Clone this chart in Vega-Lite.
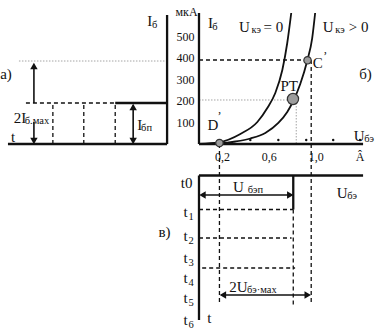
{
  "$schema": "https://vega.github.io/schema/vega-lite/v6.json",
  "width": 392,
  "height": 333,
  "autosize": {"type": "fit", "contains": "padding"},
  "padding": 0,
  "background": "white",
  "config": {"view": {"stroke": null}, "font": "Liberation Serif"},
  "datasets": {
    "thick": [
      {"x": -1.63, "x2": -0.2723, "y": 0, "y2": 0},
      {"x": -0.2723, "x2": -0.2723, "y": 0, "y2": 600},
      {"x": -0.7149, "x2": -0.2723, "y": 190.7, "y2": 190.7},
      {"x": 0, "x2": 0, "y": 0, "y2": 609.3},
      {"x": 0, "x2": 1.4, "y": 0, "y2": 0},
      {"x": 0, "x2": 1.4, "y": -146.5, "y2": -146.5},
      {"x": 0, "x2": 0, "y": -146.5, "y2": -818.6},
      {"x": 0.8043, "x2": 0.8043, "y": -146.5, "y2": -304.7}
    ],
    "dashed": [
      {"x": -1.4766, "x2": -0.7149, "y": 190.7, "y2": 190.7},
      {"x": -1.2468, "x2": -1.2468, "y": 0, "y2": 190.7},
      {"x": -0.983, "x2": -0.983, "y": 0, "y2": 190.7},
      {"x": -0.7149, "x2": -0.7149, "y": 0, "y2": 190.7},
      {"x": 0, "x2": 0.9234, "y": 390.7, "y2": 390.7},
      {"x": 0.9574, "x2": 0.9574, "y": 390.7, "y2": -748.8},
      {"x": 0.1745, "x2": 0.1745, "y": 0, "y2": -748.8},
      {"x": 0.8043, "x2": 0.8043, "y": -304.7, "y2": -748.8},
      {"x": 0, "x2": 0.8043, "y": -304.7, "y2": -304.7},
      {"x": 0, "x2": 0.79, "y": -437.2, "y2": -437.2},
      {"x": 0.027, "x2": 0.82, "y": -576.7, "y2": -576.7}
    ],
    "dotted": [
      {"x": -1.5362, "x2": -0.2723, "y": 386, "y2": 386},
      {"x": 0, "x2": 0.8, "y": 204.7, "y2": 204.7},
      {"x": 0.8298, "x2": 0.8298, "y": 204.7, "y2": 0}
    ],
    "shafts": [
      {"x": -1.4085, "x2": -1.4085, "y": 190.7, "y2": 360},
      {"x": -1.4085, "x2": -1.4085, "y": 102.3, "y2": 10},
      {"x": -0.5617, "x2": -0.5617, "y": 10, "y2": 180},
      {"x": 0.02, "x2": 0.79, "y": -237.2, "y2": -237.2},
      {"x": 0.19, "x2": 0.94, "y": -702.3, "y2": -702.3}
    ],
    "heads": [
      {"x": -1.4085, "y": 362.8, "dir": "up"},
      {"x": -1.4085, "y": 14.0, "dir": "down"},
      {"x": -0.5617, "y": 172.1, "dir": "up"},
      {"x": -0.5617, "y": 14.0, "dir": "down"},
      {"x": 0.0298, "y": -237.2, "dir": "left"},
      {"x": 0.7787, "y": -237.2, "dir": "right"},
      {"x": 0.2043, "y": -702.3, "dir": "left"},
      {"x": 0.9277, "y": -702.3, "dir": "right"}
    ],
    "curves": [
      {"c": "k0", "x": 0.004, "y": 0},
      {"c": "k0", "x": 0.166, "y": 7.0},
      {"c": "k0", "x": 0.353, "y": 46.5},
      {"c": "k0", "x": 0.498, "y": 102.3},
      {"c": "k0", "x": 0.583, "y": 167.4},
      {"c": "k0", "x": 0.651, "y": 237.2},
      {"c": "k0", "x": 0.711, "y": 344.2},
      {"c": "k0", "x": 0.753, "y": 469.8},
      {"c": "k0", "x": 0.787, "y": 609.3},
      {"c": "k1", "x": 0.098, "y": 0},
      {"c": "k1", "x": 0.166, "y": 2.3},
      {"c": "k1", "x": 0.311, "y": 11.6},
      {"c": "k1", "x": 0.438, "y": 25.6},
      {"c": "k1", "x": 0.566, "y": 51.2},
      {"c": "k1", "x": 0.677, "y": 97.7},
      {"c": "k1", "x": 0.753, "y": 148.8},
      {"c": "k1", "x": 0.804, "y": 200.0},
      {"c": "k1", "x": 0.864, "y": 279.1},
      {"c": "k1", "x": 0.923, "y": 386.0},
      {"c": "k1", "x": 0.966, "y": 493.0},
      {"c": "k1", "x": 0.991, "y": 609.3}
    ],
    "smallCircles": [
      {"x": 0.1745, "y": 4.7},
      {"x": 0.926, "y": 389.3}
    ],
    "bigCircles": [
      {"x": 0.802, "y": 209.3}
    ],
    "dots": [
      {"x": 0.438, "y": 18.6},
      {"x": 0.677, "y": 18.6},
      {"x": 0.915, "y": 18.6},
      {"x": 1.145, "y": 18.6},
      {"x": 1.374, "y": 18.6}
    ],
    "mainText": [
      {"x": -1.647, "y": 325.6, "t": "а)"},
      {"x": -1.587, "y": 32.6, "t": "t"},
      {"x": -0.421, "y": 572.1, "t": "I"},
      {"x": -1.528, "y": 120.9, "t": "2I"},
      {"x": -0.506, "y": 88.4, "t": "I"},
      {"x": 0.098, "y": 562.8, "t": "I"},
      {"x": 0.387, "y": 544, "t": "U"},
      {"x": 0.634, "y": 544, "t": "= 0"},
      {"x": 1.102, "y": 544, "t": "U"},
      {"x": 1.362, "y": 544, "t": "> 0"},
      {"x": 1.013, "y": 376.7, "t": "C"},
      {"x": 1.421, "y": 325.6, "t": "б)"},
      {"x": 0.77, "y": 269.8, "t": "PT"},
      {"x": 0.119, "y": 88.4, "t": "D"},
      {"x": 1.366, "y": 37.2, "t": "U"},
      {"x": -0.106, "y": -181.4, "t": "t0"},
      {"x": 0.336, "y": -200.0, "t": "U"},
      {"x": 1.221, "y": -227.9, "t": "U"},
      {"x": -0.294, "y": -409.3, "t": "в)"},
      {"x": -0.115, "y": -316.3, "t": "t"},
      {"x": -0.115, "y": -427.9, "t": "t"},
      {"x": -0.115, "y": -530.2, "t": "t"},
      {"x": -0.115, "y": -623.3, "t": "t"},
      {"x": -0.115, "y": -716.3, "t": "t"},
      {"x": -0.115, "y": -818.6, "t": "t"},
      {"x": 0.089, "y": -809.3, "t": "t"},
      {"x": 0.336, "y": -665.1, "t": "2U"}
    ],
    "subText": [
      {"x": -0.379, "y": 553.5, "t": "б"},
      {"x": -1.383, "y": 107.0, "t": "б.мах"},
      {"x": -0.447, "y": 74.4, "t": "бп"},
      {"x": 0.136, "y": 544.2, "t": "б"},
      {"x": 0.489, "y": 530, "t": "кэ"},
      {"x": 1.204, "y": 530, "t": "кэ"},
      {"x": 1.451, "y": 23.3, "t": "бэ"},
      {"x": 0.481, "y": -214.0, "t": "бэп"},
      {"x": 1.306, "y": -241.9, "t": "бэ"},
      {"x": -0.068, "y": -339.5, "t": "1"},
      {"x": -0.068, "y": -451.2, "t": "2"},
      {"x": -0.068, "y": -553.5, "t": "3"},
      {"x": -0.068, "y": -646.5, "t": "4"},
      {"x": -0.068, "y": -739.5, "t": "5"},
      {"x": -0.068, "y": -841.9, "t": "6"},
      {"x": 0.536, "y": -679.1, "t": "бэ·мах"}
    ],
    "numText": [
      {"x": -0.115, "y": 500, "t": "500"},
      {"x": -0.115, "y": 400, "t": "400"},
      {"x": -0.115, "y": 300, "t": "300"},
      {"x": -0.115, "y": 200, "t": "200"},
      {"x": -0.115, "y": 100, "t": "100"},
      {"x": -0.106, "y": 614, "t": "мкА"},
      {"x": 0.2, "y": -60.5, "t": "0,2"},
      {"x": 0.6, "y": -60.5, "t": "0,6"},
      {"x": 1.0, "y": -60.5, "t": "1,0"},
      {"x": 1.374, "y": -60.5, "t": "Â"},
      {"x": 1.077, "y": 409.3, "t": "’"},
      {"x": 0.1745, "y": 130.2, "t": "’"}
    ]
  },
  "encoding": {
    "x": {"field": "x", "type": "quantitative", "scale": {"domain": [-1.6894, 1.6468], "nice": false, "zero": false}, "axis": null},
    "y": {"field": "y", "type": "quantitative", "scale": {"domain": [-879.07, 669.77], "nice": false, "zero": false}, "axis": null}
  },
  "layer": [
    {
      "data": {"name": "dotted"},
      "mark": {"type": "rule", "color": "#9a9a9a", "strokeWidth": 0.9, "strokeDash": [1.5, 1.5]},
      "encoding": {"x2": {"field": "x2"}, "y2": {"field": "y2"}}
    },
    {
      "data": {"name": "dashed"},
      "mark": {"type": "rule", "color": "#111", "strokeWidth": 1.3, "strokeDash": [4, 3]},
      "encoding": {"x2": {"field": "x2"}, "y2": {"field": "y2"}}
    },
    {
      "data": {"name": "thick"},
      "mark": {"type": "rule", "color": "#111", "strokeWidth": 2.3},
      "encoding": {"x2": {"field": "x2"}, "y2": {"field": "y2"}}
    },
    {
      "data": {"name": "shafts"},
      "mark": {"type": "rule", "color": "#111", "strokeWidth": 1.6},
      "encoding": {"x2": {"field": "x2"}, "y2": {"field": "y2"}}
    },
    {
      "data": {"name": "heads"},
      "mark": {"type": "point", "filled": true, "color": "#111", "size": 55, "opacity": 1},
      "encoding": {
        "shape": {"field": "dir", "type": "nominal", "scale": {"domain": ["up", "down", "left", "right"], "range": ["triangle-up", "triangle-down", "triangle-left", "triangle-right"]}, "legend": null}
      }
    },
    {
      "data": {"name": "curves"},
      "mark": {"type": "line", "color": "#111", "strokeWidth": 1.8, "interpolate": "monotone"},
      "encoding": {"detail": {"field": "c", "type": "nominal"}}
    },
    {
      "data": {"name": "dots"},
      "mark": {"type": "point", "filled": true, "color": "#111", "size": 6, "opacity": 1},
      "encoding": {}
    },
    {
      "data": {"name": "smallCircles"},
      "mark": {"type": "point", "shape": "circle", "filled": true, "fill": "#9c9c9c", "stroke": "#333", "strokeWidth": 1.2, "size": 55, "opacity": 1},
      "encoding": {}
    },
    {
      "data": {"name": "bigCircles"},
      "mark": {"type": "point", "shape": "circle", "filled": true, "fill": "#9c9c9c", "stroke": "#333", "strokeWidth": 1.2, "size": 125, "opacity": 1},
      "encoding": {}
    },
    {
      "data": {"name": "mainText"},
      "mark": {"type": "text", "font": "Liberation Serif", "fontSize": 15, "color": "#111", "align": "center", "baseline": "middle"},
      "encoding": {"text": {"field": "t"}}
    },
    {
      "data": {"name": "subText"},
      "mark": {"type": "text", "font": "Liberation Serif", "fontSize": 10.5, "color": "#111", "align": "center", "baseline": "middle"},
      "encoding": {"text": {"field": "t"}}
    },
    {
      "data": {"name": "numText"},
      "mark": {"type": "text", "font": "Liberation Serif", "fontSize": 12, "color": "#111", "align": "center", "baseline": "middle"},
      "encoding": {"text": {"field": "t"}}
    }
  ]
}
